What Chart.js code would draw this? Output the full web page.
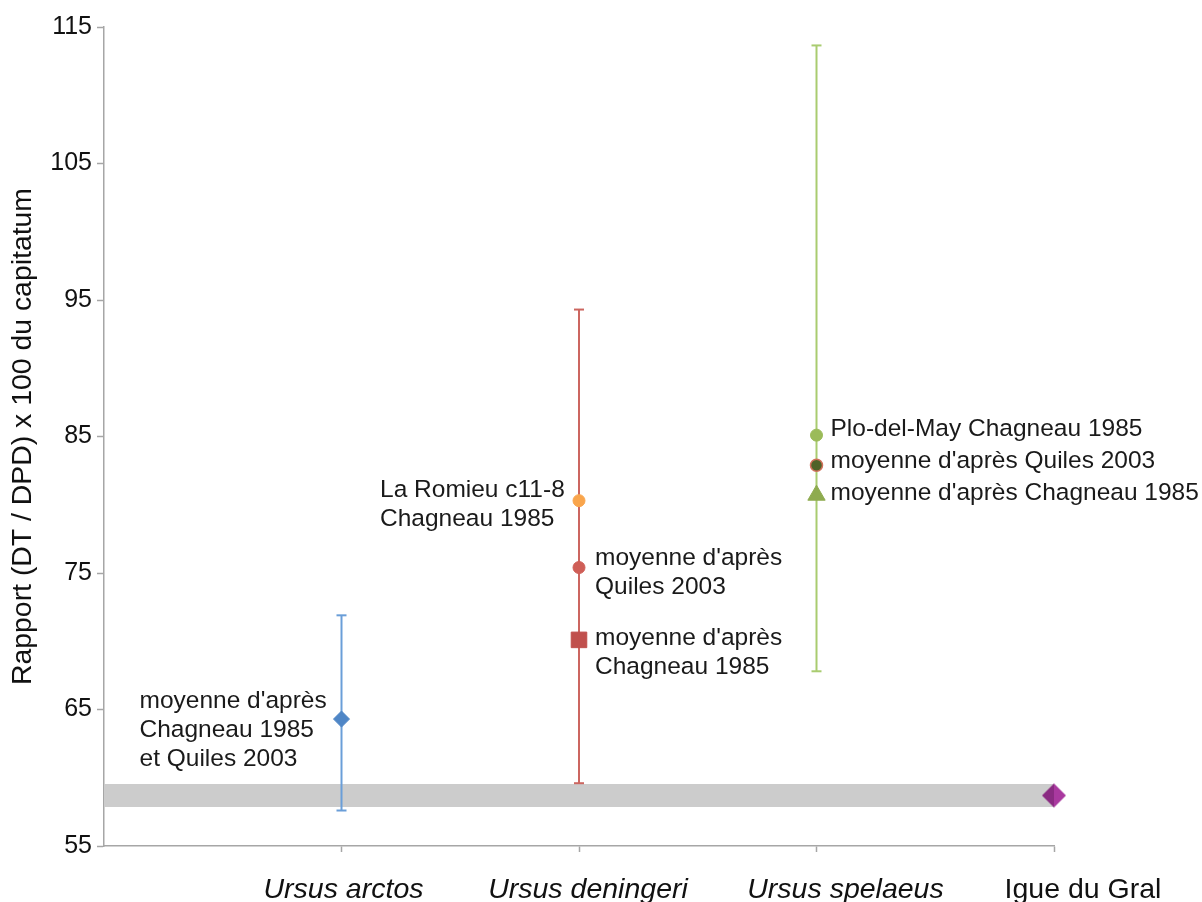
<!DOCTYPE html>
<html>
<head>
<meta charset="utf-8">
<script src="https://cdn.jsdelivr.net/npm/chart.js@4.4.1/dist/chart.umd.min.js"></script>
<style>
  html, body { margin: 0; padding: 0; background: #fff; }
  #wrap { width: 1202px; height: 902px; position: relative; }
</style>
</head>
<body>
<div id="wrap"><canvas id="chart"></canvas></div>
<script>
// categories on the x axis (placed at 1..4)
const categories = ['Ursus arctos', 'Ursus deningeri', 'Ursus spelaeus', 'Igue du Gral'];
const yTicks = [55, 65, 75, 85, 95, 105, 115];

// ranges (min, max) for each species
const arctosRange = [57.6, 71.9];
const deningeriRange = [59.6, 94.3];
const spelaeusRange = [67.8, 113.65];

// means
const arctosMean = 64.3;                     // Chagneau 1985 et Quiles 2003
const deningeriMeans = [80.3, 75.4, 70.1];   // La Romieu c11-8, Quiles 2003, Chagneau 1985
const spelaeusMeans = [85.1, 82.9, 80.7];    // Plo-del-May, Quiles 2003, Chagneau 1985
const gralValue = 58.7;
const gralBand = [57.86, 59.55];

const FONT = '"Liberation Sans", Arial, sans-serif';
const AXIS = '#a6a6a6';

// two-tone diamond used for Igue du Gral
function twoToneDiamond(r) {
  const c = document.createElement('canvas');
  c.width = c.height = 2 * r + 2;
  const g = c.getContext('2d'), m = r + 1;
  g.fillStyle = '#8a2b82';
  g.beginPath(); g.moveTo(m, m - r); g.lineTo(m - r, m); g.lineTo(m, m + r); g.closePath(); g.fill();
  g.fillStyle = '#a9399f';
  g.beginPath(); g.moveTo(m, m - r); g.lineTo(m + r, m); g.lineTo(m, m + r); g.closePath(); g.fill();
  return c;
}

function pt(cat, v) { return [{ x: cat, y: v }]; }
function bar(cat, r) { return [{ x: cat, y: r[0] }, { x: cat, y: r[1] }]; }

function marker(data, style, radius, color, extra) {
  return Object.assign({
    data: data, showLine: false, pointStyle: style, pointRadius: radius,
    backgroundColor: color, borderColor: color, pointBorderWidth: 1, clip: false
  }, extra || {});
}
function errorBar(data, color) {
  return {
    data: data, showLine: true, borderColor: color, borderWidth: 2,
    pointStyle: 'line', pointRadius: 5, pointBorderWidth: 2,
    pointBorderColor: color, backgroundColor: color, clip: false
  };
}

const datasets = [
  marker(pt(4, gralValue), twoToneDiamond(12), 12, '#a2359b'),
  marker(pt(1, arctosMean), 'rectRot', 8, '#4f86c6'),
  marker(pt(2, deningeriMeans[0]), 'circle', 6, '#f9a54c'),
  marker(pt(2, deningeriMeans[1]), 'circle', 6, '#cf5e57'),
  marker(pt(2, deningeriMeans[2]), 'rect', 11, '#c0504d'),
  marker(pt(3, spelaeusMeans[0]), 'circle', 6, '#9bbb59'),
  marker(pt(3, spelaeusMeans[1]), 'circle', 6, '#4f6228', { borderColor: '#d0705a', pointBorderWidth: 1.5 }),
  marker(pt(3, spelaeusMeans[2]), 'triangle', 10, '#8eab4f'),
  errorBar(bar(1, arctosRange), '#6a9ed8'),
  errorBar(bar(2, deningeriRange), '#cc6660'),
  errorBar(bar(3, spelaeusRange), '#a9cc70'),
  {
    data: [{ x: 0, y: gralBand[1] }, { x: 4, y: gralBand[1] }],
    showLine: true, borderWidth: 0, pointRadius: 0,
    backgroundColor: '#cccccc', fill: { value: gralBand[0] }
  }
];

// text labels next to the markers: [x, y, lines, dx, first baseline dy]
const notes = [
  [1, arctosMean, ["moyenne d'après", 'Chagneau 1985', 'et Quiles 2003'], -202, -11],
  [2, deningeriMeans[0], ['La Romieu c11-8', 'Chagneau 1985'], -199, -4],
  [2, deningeriMeans[1], ["moyenne d'après", 'Quiles 2003'], 16, -3],
  [2, deningeriMeans[2], ["moyenne d'après", 'Chagneau 1985'], 16, 5],
  [3, spelaeusMeans[0], ['Plo-del-May Chagneau 1985'], 14, 1],
  [3, spelaeusMeans[1], ["moyenne d'après Quiles 2003"], 14, 3],
  [3, spelaeusMeans[2], ["moyenne d'après Chagneau 1985"], 14, 5]
];
// category captions sit a little right of their tick
const captionShift = [2, 9, 29, 29];

const notePlugin = {
  id: 'notes',
  afterDatasetsDraw(chart) {
    const ctx = chart.ctx, xs = chart.scales.x, ys = chart.scales.y;
    ctx.save();
    ctx.font = '24.5px ' + FONT;
    ctx.fillStyle = '#1a1a1a';
    ctx.textAlign = 'left';
    ctx.textBaseline = 'alphabetic';
    notes.forEach(n => {
      const px = xs.getPixelForValue(n[0]), py = ys.getPixelForValue(n[1]);
      n[2].forEach((line, i) => ctx.fillText(line, px + n[3], py + n[4] + i * 29));
    });
    ctx.textAlign = 'center';
    ctx.fillStyle = '#111';
    categories.forEach((c, i) => {
      ctx.font = (i < 3 ? 'italic ' : '') + '28.5px ' + FONT;
      ctx.fillText(c, xs.getPixelForValue(i + 1) + captionShift[i], chart.chartArea.bottom + 52);
    });
    ctx.restore();
  }
};

new Chart(document.getElementById('chart'), {
  type: 'scatter',
  data: { datasets: datasets },
  plugins: [notePlugin],
  options: {
    responsive: true,
    maintainAspectRatio: false,
    animation: false,
    events: [],
    layout: { padding: { top: 27, right: 148, left: 0, bottom: 0 } },
    plugins: { legend: { display: false }, tooltip: { enabled: false } },
    scales: {
      x: {
        type: 'linear', min: 0, max: 4,
        afterBuildTicks: s => { s.ticks = [1, 2, 3, 4].map(v => ({ value: v })); },
        afterFit: s => { s.height = 56; },
        border: { color: AXIS, width: 1.5 },
        grid: { drawOnChartArea: false, tickLength: 6, tickColor: AXIS, tickWidth: 1.5 },
        ticks: { display: false }
      },
      y: {
        min: 55, max: 115,
        afterBuildTicks: s => { s.ticks = yTicks.map(v => ({ value: v })); },
        afterFit: s => { s.width = 104; },
        border: { color: AXIS, width: 1.5 },
        grid: { drawOnChartArea: false, tickLength: 7, tickColor: AXIS, tickWidth: 1.5 },
        ticks: { padding: 5, color: '#111', font: { family: FONT, size: 25 } },
        title: {
          display: true, text: 'Rapport (DT / DPD) x 100 du capitatum',
          color: '#111', font: { family: FONT, size: 28.4 }, padding: { top: 6, bottom: 0 }
        }
      }
    }
  }
});
</script>
</body>
</html>
